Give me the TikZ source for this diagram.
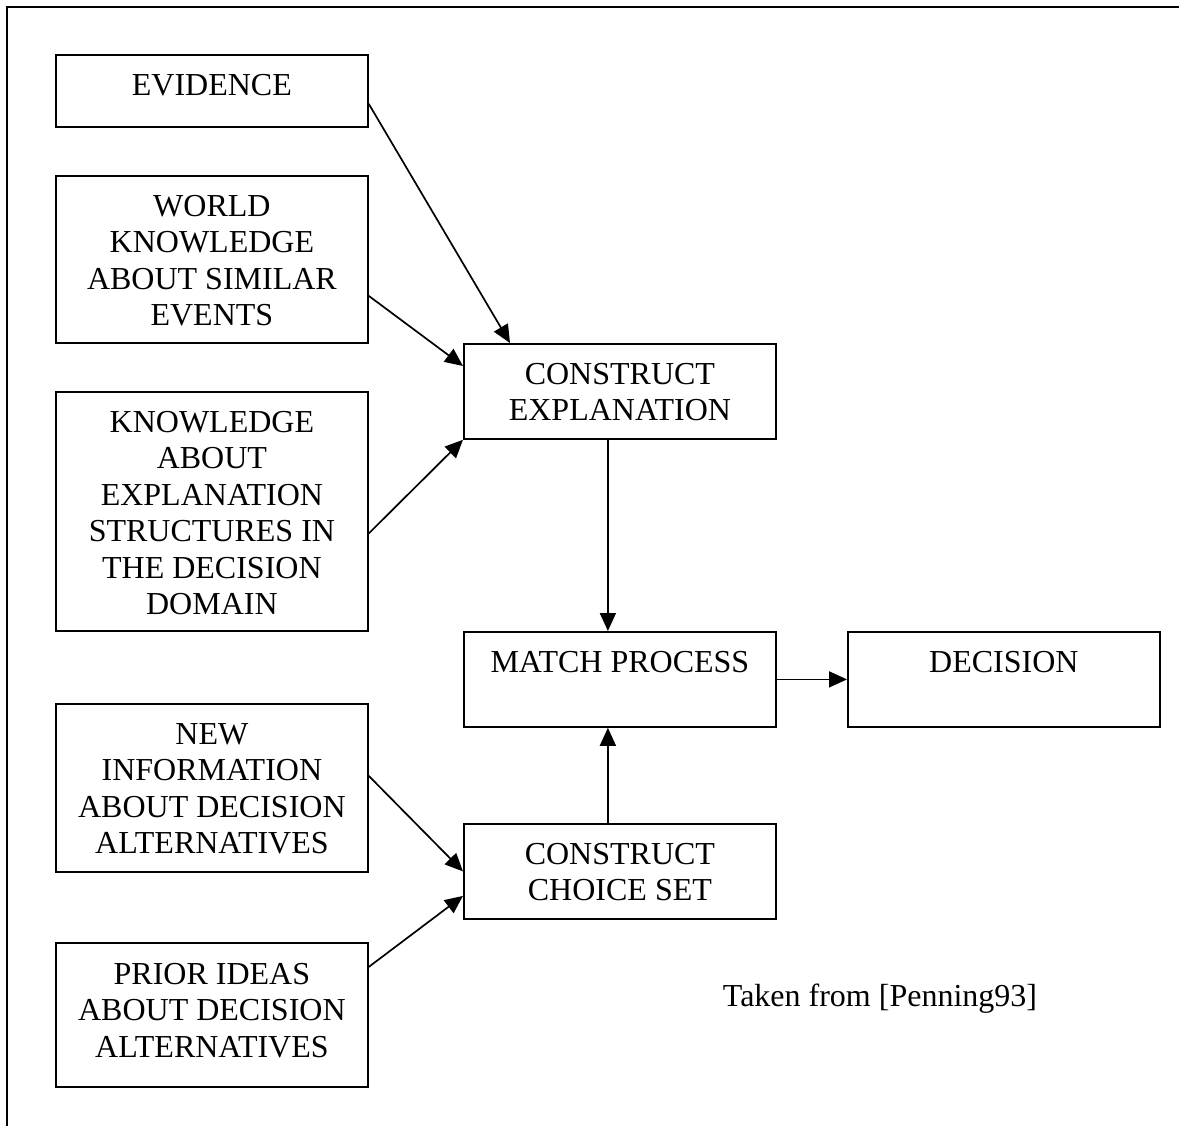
\documentclass[tikz,border=0pt]{standalone}
\usepackage{fontspec}
\setmainfont{Liberation Serif}
\usetikzlibrary{arrows.meta,calc}

\tikzset{
  box/.style={draw, line width=1.8pt, anchor=north west, inner sep=0pt,
    minimum width=312pt},
  txt/.style={anchor=north, inner sep=0pt, align=center,
    font=\fontsize{32}{36.5}\selectfont},
  flow/.style={line width=1.7pt,
    -{Triangle[length=18pt,width=16pt]}},
}

\begin{document}
\begin{tikzpicture}[x=1pt,y=-1pt]
  \useasboundingbox (0,0) rectangle (1179,1126);

  % page frame (left and top rules)
  \draw[line width=2pt] (7,1126) -- (7,7) -- (1179,7);

  % input boxes on the left
  \node[box, minimum height=72pt]  (ev) at (55,54)  {};
  \node[box, minimum height=167pt] (wk) at (55,175) {};
  \node[box, minimum height=239pt] (kn) at (55,391) {};
  \node[box, minimum height=168pt] (ni) at (55,703) {};
  \node[box, minimum height=144pt] (pi) at (55,942) {};

  % process boxes
  \node[box, minimum height=95pt] (ce) at (463,343) {};
  \node[box, minimum height=95pt] (mp) at (463,631) {};
  \node[box, minimum height=95pt] (de) at (847,631) {};
  \node[box, minimum height=95pt] (cc) at (463,823) {};

  % box texts, set from the top of each box
  \node[txt] (ev-t) at ([yshift=-20pt]ev.north) {EVIDENCE};
  \node[txt] (wk-t) at ([yshift=-20pt]wk.north) {WORLD\\KNOWLEDGE\\ABOUT SIMILAR\\EVENTS};
  \node[txt] (kn-t) at ([yshift=-20pt]kn.north) {KNOWLEDGE\\ABOUT\\EXPLANATION\\STRUCTURES IN\\THE DECISION\\DOMAIN};
  \node[txt] (ni-t) at ([yshift=-20pt]ni.north) {NEW\\INFORMATION\\ABOUT DECISION\\ALTERNATIVES};
  \node[txt] (pi-t) at ([yshift=-21pt]pi.north) {PRIOR IDEAS\\ABOUT DECISION\\ALTERNATIVES};
  \node[txt] (ce-t) at ([yshift=-20pt]ce.north) {CONSTRUCT\\EXPLANATION};
  \node[txt] (mp-t) at ([yshift=-20pt]mp.north) {MATCH PROCESS};
  \node[txt] (de-t) at ([yshift=-20pt]de.north) {DECISION};
  \node[txt] (cc-t) at ([yshift=-20pt]cc.north) {CONSTRUCT\\CHOICE SET};

  % source note
  \node[anchor=base, inner sep=0pt, font=\fontsize{32}{36.5}\selectfont]
    (src) at (880,1006) {Taken from [Penning93]};

  % connectors
  \draw[flow] ([yshift=-13pt]ev.east)   -- ([xshift=47pt]ce.north west);
  \draw[flow] ([yshift=-36.5pt]wk.east) -- ([yshift=-23pt]ce.north west);
  \draw[flow] ([yshift=-22pt]kn.east)   -- (ce.south west);
  \draw[flow] ([xshift=-12pt]ce.south)  -- ([xshift=-12pt]mp.north);
  \draw[flow] (mp.east) -- (de.west);
  \draw[flow] ([xshift=-12pt]cc.north)  -- ([xshift=-12pt]mp.south);
  \draw[flow] ([yshift=12pt]ni.east)    -- (cc.west);
  \draw[flow] ([yshift=48pt]pi.east)    -- ([yshift=-24.5pt]cc.west);
\end{tikzpicture}
\end{document}
